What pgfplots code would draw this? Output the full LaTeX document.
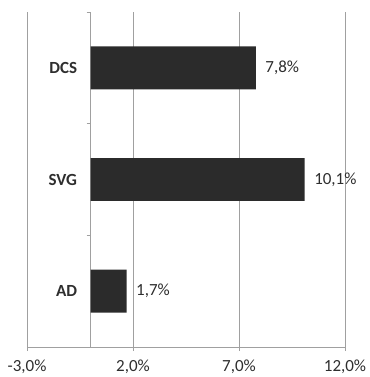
\documentclass[border=0pt]{standalone}
\usepackage{pgfplots}
\pgfplotsset{compat=1.18}
\usepackage{fontspec}
\setmainfont{Carlito}
\definecolor{barfill}{HTML}{2B2B2B}
\definecolor{gridgray}{HTML}{A0A0A0}
\definecolor{labeltext}{HTML}{2E2E2E}
\begin{document}
\begin{tikzpicture}[x=1pt,y=1pt]
\useasboundingbox (0,0) rectangle (369,377);
\begin{axis}[
  at={(27pt,30pt)}, anchor=south west,
  scale only axis, width=318pt, height=335pt,
  xbar, bar width=0.385,
  xmin=-3, xmax=12, ymin=-0.5, ymax=2.5,
  axis x line=bottom, axis y line=middle,
  x axis line style={-, draw=gridgray, line width=0.9pt},
  y axis line style={-, draw=gridgray, line width=0.9pt},
  xtick={-3,2,7,12},
  xticklabels={{-3,0\%},{2,0\%},{7,0\%},{12,0\%}},
  xtick align=outside,
  xticklabel style={yshift=-5pt},
  xmajorgrids, major grid style={gridgray, line width=0.8pt},
  ytick={-0.5,0.5,1.5,2.5}, yticklabels={},
  ytick align=outside,
  tick style={draw=gridgray, line width=0.8pt},
  major tick length=4pt,
  extra y ticks={0,1,2}, extra y tick labels={AD,SVG,DCS},
  extra y tick style={major tick length=0pt,
    yticklabel style={font=\fontsize{17}{20}\selectfont\bfseries, xshift=-10pt}},
  tick label style={font=\fontsize{17}{20}\selectfont, text=labeltext},
  nodes near coords={\pgfmathprintnumber[assume math mode=true,use comma,fixed,fixed zerofill,precision=1]{\pgfplotspointmeta}\%},
  nodes near coords style={font=\fontsize{17}{20}\selectfont, text=labeltext, anchor=west, xshift=6pt},
]
\addplot[fill=barfill, draw=none] coordinates {(1.7,0) (10.1,1) (7.8,2)};
\end{axis}
\end{tikzpicture}
\end{document}
